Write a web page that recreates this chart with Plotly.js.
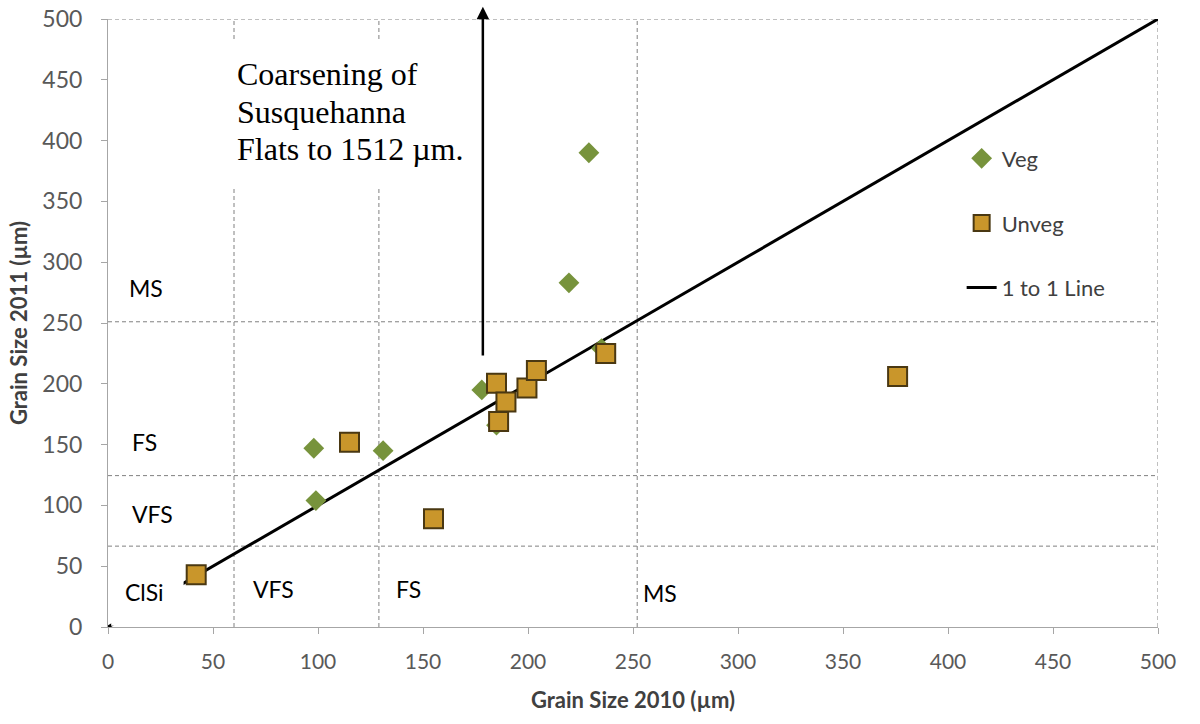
<!DOCTYPE html>
<html>
<head>
<meta charset="utf-8">
<script src="https://cdn.plot.ly/plotly-3.0.1.min.js"></script>
<style>
  html, body { margin: 0; padding: 0; background: #ffffff; }
  #chart { width: 1200px; height: 724px; }
</style>
</head>
<body>
<div id="chart"></div>
<script>
// Grain size in 2010 vs 2011 (µm)
const vegX = [98, 99, 131, 178, 185, 219.5, 229, 235];
const vegY = [147, 104, 145, 195, 166, 283, 390, 229];
const unvegX = [42, 115, 155, 185, 189.5, 186, 199.5, 204, 237, 376];
const unvegY = [43, 152, 89, 200.5, 185, 169, 196.5, 211, 225, 206];
const oneToOne = [0, 500];

// size-class boundaries (µm) drawn as dashed guides
const xBounds = [60, 129, 252, 500];
const yBounds = [66.5, 124.5, 251, 500];

const tickVals = [0, 50, 100, 150, 200, 250, 300, 350, 400, 450, 500];

const fontSans = 'Lato, "Open Sans", sans-serif';
const fontSerif = '"Liberation Serif", "Times New Roman", serif';

const traces = [
  {
    x: oneToOne, y: oneToOne, mode: 'lines', name: '1 to 1 Line',
    line: { color: '#000000', width: 3 },
    legendgroup: 'c', legendrank: 3, hoverinfo: 'skip'
  },
  {
    x: vegX, y: vegY, mode: 'markers', name: 'Veg',
    marker: { symbol: 'diamond', size: 16, color: '#77933C', line: { width: 0 } },
    legendgroup: 'a', legendrank: 1
  },
  {
    x: unvegX, y: unvegY, mode: 'markers', name: 'Unveg',
    marker: { symbol: 'square', size: 19, color: '#C9962B', line: { color: '#4a3812', width: 2 } },
    legendgroup: 'b', legendrank: 2
  }
];

const dash = { color: '#808080', width: 1, dash: '4px,3px' };
const shapes = [];
xBounds.forEach(v => shapes.push({ type: 'line', xref: 'x', yref: 'y', x0: v, x1: v, y0: 0, y1: 500, line: dash, layer: 'below' }));
yBounds.forEach(v => shapes.push({ type: 'line', xref: 'x', yref: 'y', x0: 0, x1: 500, y0: v, y1: v, line: dash, layer: 'below' }));
// text box backgrounds
shapes.push({ type: 'rect', xref: 'x', yref: 'y', x0: 55, x1: 172, y0: 361, y1: 481, fillcolor: '#ffffff', line: { width: 0 }, layer: 'below' });
shapes.push({ type: 'rect', xref: 'x', yref: 'y', x0: 1.5, x1: 36, y0: 1, y1: 48, fillcolor: '#ffffff', line: { width: 0 }, layer: 'above' });

const labelFont = { family: fontSans, size: 23, color: '#000000' };
function classLabel(text, x, y) {
  return { text: text, x: x, y: y, xref: 'x', yref: 'y', xanchor: 'left', yanchor: 'middle', showarrow: false, font: labelFont };
}
const serifFont = { family: fontSerif, size: 32, color: '#000000' };
function noteLine(text, y) {
  return { text: text, x: 60.5, y: y, xref: 'x', yref: 'y', xanchor: 'left', yanchor: 'middle', showarrow: false, font: serifFont };
}

const annotations = [
  classLabel('MS', 9, 279),
  classLabel('FS', 10.5, 152),
  classLabel('VFS', 10.5, 93),
  classLabel('ClSi', 7, 29),
  classLabel('VFS', 68, 31),
  classLabel('FS', 136, 31),
  classLabel('MS', 254, 28),
  noteLine('Coarsening of', 454.5),
  noteLine('Susquehanna', 423.5),
  noteLine('Flats to 1512 µm.', 393),
  {
    text: '', x: 178.5, y: 510, xref: 'x', yref: 'y',
    ax: 178.5, ay: 222, axref: 'x', ayref: 'y',
    showarrow: true, arrowhead: 2, arrowsize: 1, arrowwidth: 2.5, arrowcolor: '#000000'
  }
];

const axisCommon = {
  range: [0, 500], tickvals: tickVals, showgrid: false, zeroline: false,
  showline: true, linecolor: '#a6a6a6', linewidth: 1,
  ticks: 'outside', ticklen: 6, tickcolor: '#a6a6a6', tickwidth: 1,
  fixedrange: true, automargin: false
};

const layout = {
  width: 1200, height: 724,
  margin: { l: 108, r: 42, t: 19, b: 97 },
  paper_bgcolor: '#ffffff', plot_bgcolor: '#ffffff',
  showlegend: true,
  legend: {
    x: 0.813, y: 0.805, xanchor: 'left', yanchor: 'top',
    font: { family: fontSans, size: 22, color: '#404040' },
    bgcolor: 'rgba(255,255,255,0)', traceorder: 'grouped', tracegroupgap: 33
  },
  xaxis: Object.assign({}, axisCommon, {
    tickfont: { family: fontSans, size: 21, color: '#595959' },
    ticklabelstandoff: 10,
    title: { text: 'Grain Size 2010 (µm)', font: { family: fontSans, size: 22, color: '#404040', weight: 'bold' }, standoff: 20 }
  }),
  yaxis: Object.assign({}, axisCommon, {
    tickfont: { family: fontSans, size: 23, color: '#595959' },
    ticklabelstandoff: 14,
    title: { text: 'Grain Size 2011 (µm)', font: { family: fontSans, size: 22, color: '#404040', weight: 'bold' }, standoff: 8 }
  }),
  shapes: shapes,
  annotations: annotations
};

Plotly.newPlot('chart', traces, layout, { displayModeBar: false, staticPlot: true });
</script>
</body>
</html>
